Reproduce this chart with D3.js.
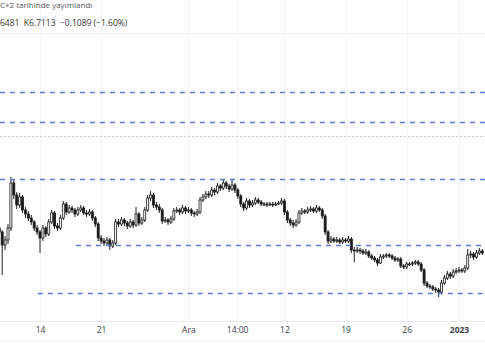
<!DOCTYPE html>
<html>
<head>
<meta charset="utf-8">
<script src="https://cdn.jsdelivr.net/npm/d3@7"></script>
<style>
  body { margin: 0; background: #fff; }
  svg { display: block; font-family: "Open Sans", Roboto, sans-serif; }
</style>
</head>
<body>
<div id="chart"></div>
<script>
// 8h candles, first one opens Nov 9 08:00
var closes = [6.92,6.79,6.84,6.96,7.41,7.29,7.19,7.27,7.14,7.10,7.06,7.02,6.96,6.92,6.86,6.96,6.90,7.02,7.11,6.98,
  6.96,7.06,7.20,7.12,7.16,7.14,7.10,7.14,7.16,7.11,7.10,7.12,7.06,7.00,6.86,6.83,6.81,6.84,6.78,6.81,
  7.02,7.00,7.04,7.01,6.98,7.02,6.99,7.10,7.01,7.04,7.14,7.26,7.29,7.19,7.17,7.14,7.03,7.04,7.02,7.05,
  7.13,7.14,7.12,7.16,7.13,7.14,7.11,7.10,7.12,7.24,7.27,7.30,7.29,7.34,7.32,7.38,7.36,7.41,7.38,7.35,
  7.39,7.34,7.28,7.20,7.16,7.23,7.19,7.21,7.24,7.22,7.20,7.20,7.19,7.20,7.19,7.20,7.21,7.23,7.12,7.04,
  7.01,6.99,7.02,7.11,7.13,7.12,7.14,7.15,7.13,7.16,7.14,7.08,6.92,6.83,6.85,6.83,6.84,6.82,6.84,6.83,
  6.85,6.74,6.73,6.74,6.73,6.71,6.72,6.68,6.66,6.64,6.61,6.67,6.68,6.69,6.68,6.66,6.64,6.65,6.58,6.57,
  6.60,6.60,6.61,6.62,6.60,6.54,6.41,6.38,6.37,6.35,6.34,6.32,6.41,6.46,6.50,6.48,6.52,6.53,6.54,6.53,
  6.56,6.69,6.70,6.67,6.71,6.73,6.71];
var highs = [6.99,6.94,6.88,7.00,7.47,7.44,7.32,7.31,7.29,7.17,7.13,7.09,7.04,6.99,6.94,6.99,6.98,7.05,7.14,7.13,
  7.01,7.09,7.23,7.22,7.19,7.18,7.16,7.17,7.19,7.18,7.14,7.15,7.14,7.08,7.02,6.89,6.86,6.87,6.86,6.84,
  7.05,7.05,7.07,7.06,7.03,7.05,7.04,7.17,7.12,7.07,7.17,7.29,7.33,7.31,7.22,7.20,7.16,7.07,7.06,7.08,
  7.16,7.17,7.16,7.19,7.18,7.17,7.16,7.13,7.15,7.27,7.30,7.33,7.33,7.37,7.36,7.41,7.40,7.45,7.43,7.40,
  7.44,7.41,7.36,7.30,7.22,7.26,7.25,7.24,7.27,7.26,7.24,7.22,7.22,7.22,7.22,7.22,7.23,7.26,7.25,7.14,
  7.06,7.04,7.05,7.14,7.16,7.15,7.17,7.18,7.17,7.19,7.18,7.16,7.10,6.94,6.88,6.87,6.87,6.86,6.87,6.86,
  6.88,6.87,6.77,6.77,6.76,6.75,6.75,6.74,6.70,6.68,6.66,6.70,6.70,6.71,6.71,6.70,6.68,6.67,6.67,6.60,
  6.62,6.62,6.63,6.64,6.64,6.62,6.56,6.43,6.40,6.39,6.37,6.36,6.44,6.49,6.53,6.52,6.55,6.56,6.57,6.56,
  6.59,6.75,6.73,6.72,6.74,6.76,6.75];
var lows = [6.88,6.49,6.74,6.80,6.93,7.25,7.15,7.16,7.11,7.06,7.03,6.99,6.93,6.89,6.71,6.83,6.87,6.88,7.00,6.95,
  6.93,6.94,7.04,7.09,7.10,7.11,7.07,7.08,7.12,7.09,7.07,7.08,7.03,6.97,6.83,6.80,6.78,6.79,6.74,6.76,
  6.79,6.97,6.98,6.98,6.95,6.96,6.96,6.97,6.98,6.99,7.02,7.12,7.23,7.16,7.14,7.11,7.00,7.01,6.99,7.00,
  7.03,7.11,7.09,7.10,7.10,7.11,7.08,7.07,7.08,7.10,7.22,7.25,7.26,7.27,7.29,7.30,7.33,7.34,7.35,7.32,
  7.33,7.31,7.25,7.17,7.13,7.14,7.16,7.17,7.19,7.20,7.18,7.18,7.17,7.18,7.17,7.18,7.19,7.19,7.09,7.01,
  6.98,6.96,6.97,7.00,7.09,7.10,7.10,7.12,7.11,7.11,7.12,7.05,6.89,6.80,6.81,6.81,6.81,6.80,6.80,6.81,
  6.81,6.71,6.62,6.71,6.70,6.69,6.69,6.66,6.64,6.62,6.58,6.60,6.65,6.66,6.66,6.64,6.62,6.62,6.56,6.55,
  6.55,6.58,6.58,6.59,6.58,6.52,6.38,6.36,6.35,6.33,6.31,6.27,6.30,6.39,6.44,6.45,6.46,6.50,6.51,6.51,
  6.51,6.54,6.66,6.64,6.65,6.69,6.69];
var firstOpen = 6.96;

// horizontal levels drawn on the chart
var levels = [8.32, 8.02, 7.45, 6.79, 6.31];
var levelStarts = [null, null, null, new Date(2022, 10, 18, 3), new Date(2022, 10, 13, 18)];
var dottedLevel = 7.88;

var tickDates = [new Date(2022, 10, 14), new Date(2022, 10, 21), new Date(2022, 11, 1), new Date(2022, 11, 6, 14),
  new Date(2022, 11, 12), new Date(2022, 11, 19), new Date(2022, 11, 26), new Date(2023, 0, 1)];
var tickLabels = ["14", "21", "Ara", "14:00", "12", "19", "26", "2023"];

var headerLine1 = "C+2 tarihinde yayımlandı";
var headerLine2 = "6481  K6.7113  \u22120.1089 (\u22121.60%)";

var width = 485, height = 360, plotBottom = 321;

var svg = d3.select("#chart").append("svg")
  .attr("width", width).attr("height", height);

var start = new Date(2022, 10, 9, 8);
var candles = closes.map(function (c, i) {
  return {
    date: d3.timeHour.offset(start, 8 * i),
    open: i === 0 ? firstOpen : closes[i - 1],
    close: c, high: highs[i], low: lows[i]
  };
});

var x = d3.scaleTime()
  .domain([new Date(2022, 10, 14), new Date(2023, 0, 1)])
  .range([40, 459]);
var y = d3.scaleLinear()
  .domain([6.0, 9.24])
  .range([324, 0]);

svg.append("defs").append("clipPath").attr("id", "plot")
  .append("rect").attr("x", 0).attr("y", 0).attr("width", width).attr("height", plotBottom);

// grid
svg.append("g").selectAll("line").data(tickDates).enter().append("line")
  .attr("x1", function (d) { return Math.round(x(d)) + 0.5; })
  .attr("x2", function (d) { return Math.round(x(d)) + 0.5; })
  .attr("y1", 0).attr("y2", plotBottom)
  .attr("stroke", "#f0f3fa");
svg.append("line").attr("x1", 0).attr("x2", width).attr("y1", 33.5).attr("y2", 33.5).attr("stroke", "#eef0f5");
svg.append("line").attr("x1", 0).attr("x2", width).attr("y1", plotBottom + 0.5).attr("y2", plotBottom + 0.5).attr("stroke", "#e8eaef");
svg.append("line").attr("x1", 0).attr("x2", width).attr("y1", 340.5).attr("y2", 340.5).attr("stroke", "#eef0f5");

// dotted grey line
svg.append("line")
  .attr("x1", 0).attr("x2", width)
  .attr("y1", Math.round(y(dottedLevel)) + 0.5).attr("y2", Math.round(y(dottedLevel)) + 0.5)
  .attr("stroke", "#c9cbd1").attr("stroke-dasharray", "2,2");

// candles
var plot = svg.append("g").attr("clip-path", "url(#plot)");
var bw = 2;
plot.selectAll(".wick").data(candles).enter().append("line")
  .attr("class", "wick")
  .attr("x1", function (d) { return x(d.date); })
  .attr("x2", function (d) { return x(d.date); })
  .attr("y1", function (d) { return y(d.high); })
  .attr("y2", function (d) { return y(d.low); })
  .attr("stroke", "#1e1e1e").attr("stroke-width", 1);
plot.selectAll(".body").data(candles).enter().append("rect")
  .attr("class", "body")
  .attr("x", function (d) { return x(d.date) - bw / 2; })
  .attr("width", bw)
  .attr("y", function (d) { return y(Math.max(d.open, d.close)); })
  .attr("height", function (d) { return Math.max(1, Math.abs(y(d.open) - y(d.close))); })
  .attr("fill", function (d) { return d.close >= d.open ? "#ffffff" : "#1a1a1a"; })
  .attr("stroke", "#1a1a1a").attr("stroke-width", 0.8);

// dashed levels
svg.append("g").selectAll("line").data(levels).enter().append("line")
  .attr("x1", function (d, i) { return levelStarts[i] ? x(levelStarts[i]) : 0; })
  .attr("x2", width)
  .attr("y1", function (d) { return Math.round(y(d)) + 0.5; })
  .attr("y2", function (d) { return Math.round(y(d)) + 0.5; })
  .attr("stroke", "#5a7ddc").attr("stroke-width", 1.3)
  .attr("stroke-dasharray", "5,5");

// x axis labels
var xAxis = d3.axisBottom(x).tickValues(tickDates)
  .tickFormat(function (d, i) { return tickLabels[i]; })
  .tickSize(0).tickPadding(0);
var ax = svg.append("g").attr("transform", "translate(0," + 327 + ")").call(xAxis);
ax.select(".domain").remove();
ax.selectAll("text")
  .attr("font-size", 8.5)
  .attr("font-family", "'Open Sans', Roboto, sans-serif")
  .attr("fill", "#3a3d45")
  .attr("font-weight", function (d, i) { return i === tickLabels.length - 1 ? "bold" : null; });

// header
svg.append("text").attr("x", 0).attr("y", 8)
  .attr("font-size", 8).attr("fill", "#555")
  .text(headerLine1);
svg.append("text").attr("x", 0).attr("y", 26)
  .attr("font-size", 8.5).attr("fill", "#333")
  .attr("xml:space", "preserve").style("white-space", "pre")
  .text(headerLine2);
</script>
</body>
</html>
